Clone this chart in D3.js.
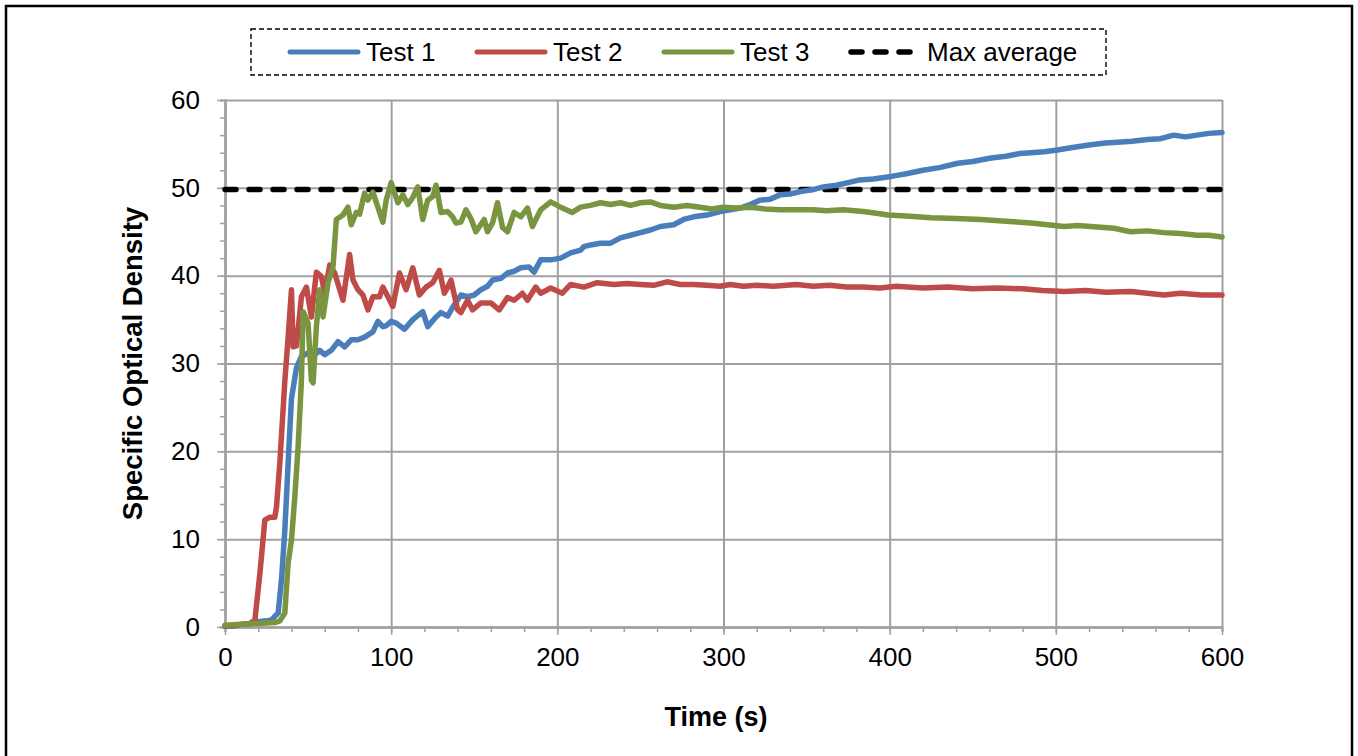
<!DOCTYPE html>
<html>
<head>
<meta charset="utf-8">
<script src="https://cdn.jsdelivr.net/npm/d3@7"></script>
<style>
  body { margin: 0; background: #fff; }
  svg { font-family: "Liberation Sans", Arial, sans-serif; }
</style>
</head>
<body>
<div id="chart"></div>
<script>
'use strict';

// Readings: time (s) and specific optical density
const test1Time = [0, 5, 10, 15, 20, 25, 28, 32, 34, 36, 38, 40, 43, 46, 50, 54, 57, 60, 64, 68, 72, 76, 80, 84, 89, 92, 95, 97, 100, 103, 108, 113, 119, 122, 127, 130, 134, 137, 142, 146, 150, 154, 158, 161, 166, 170, 174, 178, 183, 186, 190, 196, 202, 208, 214, 216, 220, 226, 232, 238, 244, 250, 256, 262, 270, 276, 282, 290, 298, 304, 310, 316, 322, 328, 334, 340, 347, 354, 360, 368, 375, 382, 390, 401, 410, 420, 430, 441, 450, 461, 470, 478, 485, 493, 501, 510, 521, 530, 537, 546, 555, 563, 571, 578, 585, 592, 600];
const test1Value = [0.1, 0.1, 0.3, 0.4, 0.6, 0.7, 0.8, 1.6, 5.4, 11, 18.7, 26, 29.5, 30.8, 31.2, 31, 31.5, 31, 31.5, 32.5, 31.9, 32.7, 32.7, 33, 33.6, 34.8, 34.2, 34.3, 34.8, 34.6, 33.9, 35, 35.9, 34.2, 35.3, 35.8, 35.4, 36.4, 37.8, 37.6, 37.8, 38.4, 38.8, 39.5, 39.7, 40.3, 40.5, 40.9, 41, 40.4, 41.8, 41.8, 42, 42.6, 42.9, 43.3, 43.5, 43.7, 43.7, 44.3, 44.6, 44.9, 45.2, 45.6, 45.8, 46.4, 46.7, 46.9, 47.3, 47.5, 47.7, 48.1, 48.6, 48.7, 49.2, 49.3, 49.6, 49.8, 50.1, 50.3, 50.6, 50.9, 51, 51.3, 51.6, 52, 52.3, 52.8, 53, 53.4, 53.6, 53.9, 54, 54.1, 54.3, 54.6, 54.9, 55.1, 55.2, 55.3, 55.5, 55.6, 56, 55.8, 56, 56.2, 56.3];

const test2Time = [0, 5, 10, 15, 18, 21, 24, 27, 30, 31, 33, 36, 38, 40, 41, 43, 46, 49, 52, 55, 58, 60, 63, 66, 71, 75, 77, 80, 83, 86, 89, 93, 95, 97, 101, 105, 109, 113, 117, 121, 125, 129, 132, 134, 136, 140, 142, 146, 149, 154, 160, 165, 170, 174, 179, 182, 187, 190, 196, 203, 208, 216, 224, 234, 242, 250, 258, 266, 274, 282, 290, 298, 304, 312, 320, 330, 344, 354, 364, 374, 384, 394, 404, 420, 435, 450, 465, 480, 492, 505, 518, 530, 545, 555, 565, 575, 588, 600];
const test2Value = [0.1, 0.2, 0.3, 0.4, 0.8, 6.1, 12.2, 12.5, 12.5, 13.7, 18.7, 28, 33, 38.4, 31.9, 32, 37.6, 38.7, 35.3, 40.4, 39.9, 38, 41.2, 40.3, 37.2, 42.4, 39.5, 38.4, 37.8, 36.1, 37.6, 37.6, 38.7, 38, 36.5, 40.3, 38.4, 40.9, 37.8, 38.7, 39.2, 40.6, 38, 38.7, 39.5, 36.1, 35.8, 37.2, 36.1, 36.9, 36.9, 36.1, 37.5, 37.2, 38, 37.2, 38.7, 38, 38.6, 38, 39, 38.7, 39.2, 39, 39.1, 39, 38.9, 39.3, 39, 39, 38.9, 38.8, 39, 38.8, 38.9, 38.8, 39, 38.8, 38.9, 38.7, 38.7, 38.6, 38.8, 38.6, 38.7, 38.5, 38.6, 38.5, 38.3, 38.2, 38.3, 38.1, 38.2, 38, 37.8, 38, 37.8, 37.8];

const test3Time = [0, 10, 20, 30, 33, 36, 38, 40, 42, 44, 46, 47, 50, 52, 53, 55, 57, 59, 62, 65, 67, 71, 74, 76, 79, 81, 84, 86, 89, 92, 95, 97, 100, 104, 107, 110, 113, 116, 119, 122, 125, 127, 130, 134, 137, 139, 142, 145, 148, 151, 156, 158, 161, 164, 167, 170, 174, 178, 182, 185, 190, 196, 202, 209, 214, 220, 226, 232, 238, 244, 250, 256, 262, 270, 278, 286, 293, 300, 308, 316, 325, 334, 344, 354, 362, 372, 384, 392, 399, 410, 425, 440, 455, 470, 485, 495, 505, 513, 521, 535, 545, 555, 565, 575, 585, 592, 600];
const test3Value = [0.2, 0.3, 0.4, 0.5, 0.7, 1.6, 7.3, 9.9, 14.8, 20.5, 28.1, 35.9, 34.6, 28.1, 27.8, 34.2, 38.4, 35.3, 39.2, 41, 46.4, 46.9, 47.8, 45.8, 47.2, 47, 49.4, 48.6, 49.5, 47.8, 46.1, 48.6, 50.6, 48.3, 49.2, 48.1, 48.9, 50.1, 46.4, 48.6, 49, 50.3, 47.2, 47.3, 46.7, 46, 46.1, 47.5, 46.5, 45, 46.4, 45, 46, 48.3, 45.5, 45, 47.2, 46.7, 47.7, 45.6, 47.5, 48.4, 47.8, 47.2, 47.8, 48, 48.3, 48.1, 48.3, 48, 48.3, 48.4, 48, 47.8, 48, 47.8, 47.6, 47.8, 47.7, 47.8, 47.6, 47.5, 47.5, 47.5, 47.4, 47.5, 47.3, 47.1, 46.9, 46.8, 46.6, 46.5, 46.4, 46.2, 46, 45.8, 45.6, 45.7, 45.6, 45.4, 45, 45.1, 44.9, 44.8, 44.6, 44.6, 44.4];

const maxAverage = 49.8;

const seriesNames = ['Test 1', 'Test 2', 'Test 3'];
const seriesColors = ['#4a7ebb', '#be4b48', '#799540'];

const xTicks = [0, 100, 200, 300, 400, 500, 600];
const yTicks = [0, 10, 20, 30, 40, 50, 60];

const width = 1358;
const height = 756;

const margin = {
  top: 100,
  right: 136,
  bottom: 129,
  left: 225,
};

const plotWidth = width - margin.left - margin.right;
const plotHeight = height - margin.top - margin.bottom;

const gridColor = '#a0a0a0';

const svg = d3.select('#chart')
  .append('svg')
  .attr('width', width)
  .attr('height', height);

// Outer frame
svg.append('rect')
  .attr('x', 6)
  .attr('y', 6)
  .attr('width', 1346)
  .attr('height', 800)
  .attr('fill', 'none')
  .attr('stroke', '#000')
  .attr('stroke-width', 2.5);

const g = svg.append('g')
  .attr('transform', `translate(${margin.left}, ${margin.top})`);

const xScale = d3.scaleLinear()
  .domain([0, 600])
  .range([0, plotWidth]);

const yScale = d3.scaleLinear()
  .domain([0, 60])
  .range([plotHeight, 0]);

// Gridlines
g.append('g')
  .attr('class', 'grid')
  .call(d3.axisBottom(xScale).tickValues(xTicks).tickSize(plotHeight).tickFormat(''))
  .call((sel) => sel.select('.domain').remove());

g.append('g')
  .attr('class', 'grid')
  .call(d3.axisLeft(yScale).tickValues(yTicks).tickSize(-plotWidth).tickFormat(''))
  .call((sel) => sel.select('.domain').remove());

g.selectAll('.grid line')
  .attr('stroke', gridColor)
  .attr('stroke-width', 2);

// Minor ticks
g.append('g')
  .attr('class', 'minor')
  .attr('transform', `translate(0, ${plotHeight})`)
  .call(d3.axisBottom(xScale).tickValues(d3.range(0, 601, 20)).tickSize(5).tickFormat(''));

g.append('g')
  .attr('class', 'minor')
  .call(d3.axisLeft(yScale).tickValues(d3.range(0, 61, 2)).tickSize(5).tickFormat(''));

// Major axes
g.append('g')
  .attr('class', 'axis')
  .attr('transform', `translate(0, ${plotHeight})`)
  .call(d3.axisBottom(xScale).tickValues(xTicks).tickSize(8).tickPadding(13).tickSizeOuter(0));

g.append('g')
  .attr('class', 'axis')
  .call(d3.axisLeft(yScale).tickValues(yTicks).tickSize(8).tickPadding(17).tickSizeOuter(0));

g.selectAll('.minor .domain, .axis .domain')
  .attr('stroke', gridColor)
  .attr('stroke-width', 2);

g.selectAll('.minor line, .axis line')
  .attr('stroke', gridColor)
  .attr('stroke-width', 1.5);

g.selectAll('.axis text')
  .attr('font-family', '"Liberation Sans", Arial, sans-serif')
  .attr('font-size', 26)
  .attr('fill', '#000');

// Max average line
g.append('line')
  .attr('x1', xScale(0))
  .attr('x2', xScale(600))
  .attr('y1', yScale(maxAverage))
  .attr('y2', yScale(maxAverage))
  .attr('stroke', '#000')
  .attr('stroke-width', 5.5)
  .attr('stroke-dasharray', '11,13')
  .attr('stroke-linecap', 'round');

const line = d3.line()
  .x((d) => xScale(d[0]))
  .y((d) => yScale(d[1]));

const seriesData = [
  d3.zip(test1Time, test1Value),
  d3.zip(test2Time, test2Value),
  d3.zip(test3Time, test3Value),
];

// Draw in order so Test 3 sits on top, like the reference
seriesData.forEach((data, i) => {
  g.append('path')
    .datum(data)
    .attr('d', line)
    .attr('fill', 'none')
    .attr('stroke', seriesColors[i])
    .attr('stroke-width', 5.5)
    .attr('stroke-linejoin', 'round')
    .attr('stroke-linecap', 'round');
});

// Axis titles
svg.append('text')
  .attr('x', 716)
  .attr('y', 726)
  .attr('text-anchor', 'middle')
  .attr('font-size', 27)
  .attr('font-weight', 'bold')
  .text('Time (s)');

svg.append('text')
  .attr('transform', `translate(142, ${margin.top + plotHeight / 2}) rotate(-90)`)
  .attr('text-anchor', 'middle')
  .attr('font-size', 27.5)
  .attr('font-weight', 'bold')
  .text('Specific Optical Density');

// Legend
const legend = svg.append('g')
  .attr('class', 'legend');

legend.append('rect')
  .attr('x', 251)
  .attr('y', 29)
  .attr('width', 855)
  .attr('height', 46)
  .attr('fill', '#fff')
  .attr('stroke', '#000')
  .attr('stroke-width', 1.4)
  .attr('stroke-dasharray', '5,3');

const legendItems = [
  { name: seriesNames[0], color: seriesColors[0], x: 290, dash: null },
  { name: seriesNames[1], color: seriesColors[1], x: 477, dash: null },
  { name: seriesNames[2], color: seriesColors[2], x: 664, dash: null },
  { name: 'Max average', color: '#000', x: 851, dash: '11,13' },
];

legendItems.forEach((item) => {
  legend.append('line')
    .attr('x1', item.x)
    .attr('x2', item.x + 68)
    .attr('y1', 52)
    .attr('y2', 52)
    .attr('stroke', item.color)
    .attr('stroke-width', item.dash ? 5.5 : 5)
    .attr('stroke-linecap', 'round')
    .attr('stroke-dasharray', item.dash);

  legend.append('text')
    .attr('x', item.x + 76)
    .attr('y', 52)
    .attr('dy', '0.35em')
    .attr('font-size', 26)
    .text(item.name);
});
</script>
</body>
</html>
